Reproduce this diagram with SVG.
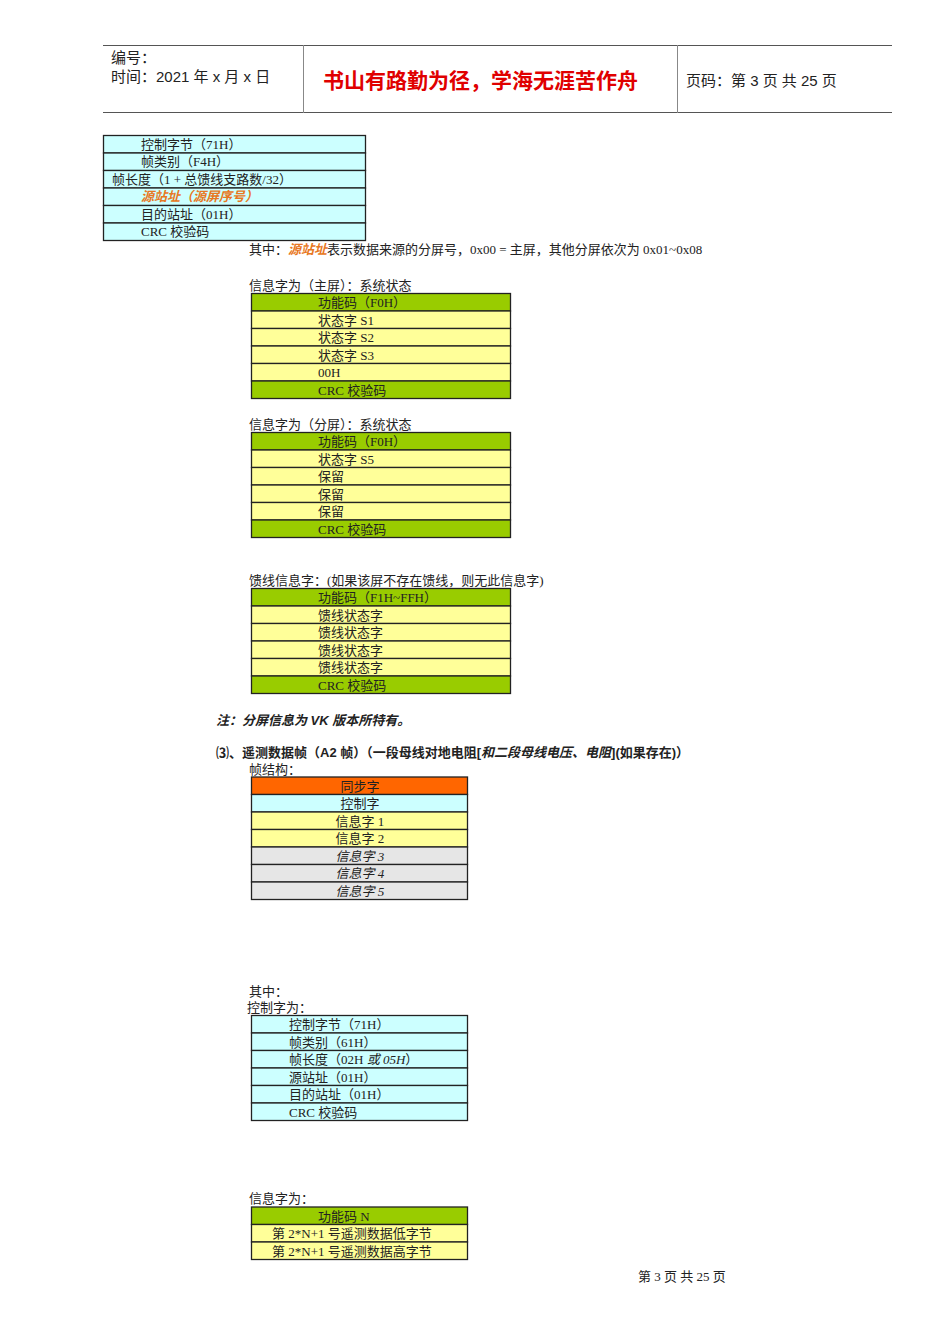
<svg xmlns="http://www.w3.org/2000/svg" width="950" height="1344" viewBox="0 0 950 1344">
<style>
text{font-family:"Liberation Serif","Noto Sans CJK SC",serif;font-size:13px;fill:#222}
.h{font-family:"Liberation Sans","Noto Sans CJK SC",sans-serif;font-size:15px}
.r rect{stroke:#222;stroke-width:1.3}
.c{fill:#CCFFFF}.y{fill:#FFFF99}.g{fill:#99CC00}.o{fill:#FF6600}.gr{fill:#E6E6E6}
.it{font-style:italic}
.or{fill:#E87722;font-style:italic;font-weight:bold}
.b{font-family:"Liberation Sans","Noto Sans CJK SC",sans-serif;font-weight:bold;font-size:13px}
</style>
<rect width="950" height="1344" fill="#fff"/>
<g id="header">
<line x1="103" y1="45.5" x2="892" y2="45.5" stroke="#555"/>
<line x1="103" y1="112.5" x2="892" y2="112.5" stroke="#555"/>
<line x1="303.5" y1="45" x2="303.5" y2="113" stroke="#888"/>
<line x1="677.5" y1="45" x2="677.5" y2="113" stroke="#888"/>
<text class="h" x="111" y="63">编号：</text>
<text class="h" x="111" y="82">时间：2021 年 x 月 x 日</text>
<text class="h" x="323" y="88" style="font-size:21px;fill:#E00000;font-weight:bold">书山有路勤为径，学海无涯苦作舟</text>
<text class="h" x="686" y="86">页码：第 3 页  共 25 页</text>
</g>
<g id="t1" class="r">
<rect class="c" x="103.5" y="135.5" width="262" height="17.5"/>
<rect class="c" x="103.5" y="153" width="262" height="17.5"/>
<rect class="c" x="103.5" y="170.5" width="262" height="17.5"/>
<rect class="c" x="103.5" y="188" width="262" height="17.5"/>
<rect class="c" x="103.5" y="205.5" width="262" height="17.5"/>
<rect class="c" x="103.5" y="223" width="262" height="17.5"/>
<text x="141" y="149">控制字节（71H）</text>
<text x="141" y="166">帧类别（F4H）</text>
<text x="112" y="184">帧长度（1 + 总馈线支路数/32）</text>
<text class="or" x="141" y="201">源站址（源屏序号）</text>
<text x="141" y="219">目的站址（01H）</text>
<text x="141" y="236">CRC 校验码</text>
</g>
<text x="249" y="254">其中：<tspan class="or">源站址</tspan>表示数据来源的分屏号，0x00 = 主屏，其他分屏依次为 0x01~0x08</text>
<text x="249" y="290">信息字为（主屏）：系统状态</text>
<g id="t2" class="r">
<rect class="g" x="251.5" y="293.5" width="259" height="17.5"/>
<rect class="y" x="251.5" y="311" width="259" height="17.5"/>
<rect class="y" x="251.5" y="328.5" width="259" height="17.5"/>
<rect class="y" x="251.5" y="346" width="259" height="17.5"/>
<rect class="y" x="251.5" y="363.5" width="259" height="17.5"/>
<rect class="g" x="251.5" y="381" width="259" height="17.5"/>
<text x="318" y="307">功能码（F0H）</text>
<text x="318" y="325">状态字 S1</text>
<text x="318" y="342">状态字 S2</text>
<text x="318" y="360">状态字 S3</text>
<text x="318" y="377">00H</text>
<text x="318" y="395">CRC 校验码</text>
</g>
<text x="249" y="429">信息字为（分屏）：系统状态</text>
<g id="t3" class="r">
<rect class="g" x="251.5" y="432.5" width="259" height="17.5"/>
<rect class="y" x="251.5" y="450" width="259" height="17.5"/>
<rect class="y" x="251.5" y="467.5" width="259" height="17.5"/>
<rect class="y" x="251.5" y="485" width="259" height="17.5"/>
<rect class="y" x="251.5" y="502.5" width="259" height="17.5"/>
<rect class="g" x="251.5" y="520" width="259" height="17.5"/>
<text x="318" y="446">功能码（F0H）</text>
<text x="318" y="464">状态字 S5</text>
<text x="318" y="481">保留</text>
<text x="318" y="499">保留</text>
<text x="318" y="516">保留</text>
<text x="318" y="534">CRC 校验码</text>
</g>
<text x="249" y="585">馈线信息字：(如果该屏不存在馈线，则无此信息字)</text>
<g id="t4" class="r">
<rect class="g" x="251.5" y="588.5" width="259" height="17.5"/>
<rect class="y" x="251.5" y="606" width="259" height="17.5"/>
<rect class="y" x="251.5" y="623.5" width="259" height="17.5"/>
<rect class="y" x="251.5" y="641" width="259" height="17.5"/>
<rect class="y" x="251.5" y="658.5" width="259" height="17.5"/>
<rect class="g" x="251.5" y="676" width="259" height="17.5"/>
<text x="318" y="602">功能码（F1H~FFH）</text>
<text x="318" y="620">馈线状态字</text>
<text x="318" y="637">馈线状态字</text>
<text x="318" y="655">馈线状态字</text>
<text x="318" y="672">馈线状态字</text>
<text x="318" y="690">CRC 校验码</text>
</g>
<text class="b it" x="216" y="725">注：分屏信息为 VK 版本所特有。</text>
<text class="b" x="216" y="757">⑶、遥测数据帧（A2 帧）（一段母线对地电阻[<tspan class="it">和二段母线电压、电阻</tspan>](如果存在)）</text>
<text x="249" y="774">帧结构：</text>
<g id="t5" class="r">
<rect class="o" x="251.5" y="777" width="216" height="17.5"/>
<rect class="c" x="251.5" y="794.5" width="216" height="17.5"/>
<rect class="y" x="251.5" y="812" width="216" height="17.5"/>
<rect class="y" x="251.5" y="829.5" width="216" height="17.5"/>
<rect class="gr" x="251.5" y="847" width="216" height="17.5"/>
<rect class="gr" x="251.5" y="864.5" width="216" height="17.5"/>
<rect class="gr" x="251.5" y="882" width="216" height="17.5"/>
<g text-anchor="middle">
<text x="360" y="791">同步字</text>
<text x="360" y="808">控制字</text>
<text x="360" y="826">信息字 1</text>
<text x="360" y="843">信息字 2</text>
<text class="it" x="360" y="861">信息字 3</text>
<text class="it" x="360" y="878">信息字 4</text>
<text class="it" x="360" y="896">信息字 5</text>
</g>
</g>
<text x="249" y="996">其中：</text>
<text x="247" y="1012">控制字为：</text>
<g id="t6" class="r">
<rect class="c" x="251.5" y="1015.5" width="216" height="17.5"/>
<rect class="c" x="251.5" y="1033" width="216" height="17.5"/>
<rect class="c" x="251.5" y="1050.5" width="216" height="17.5"/>
<rect class="c" x="251.5" y="1068" width="216" height="17.5"/>
<rect class="c" x="251.5" y="1085.5" width="216" height="17.5"/>
<rect class="c" x="251.5" y="1103" width="216" height="17.5"/>
<text x="289" y="1029">控制字节（71H）</text>
<text x="289" y="1047">帧类别（61H）</text>
<text x="289" y="1064">帧长度（02H <tspan class="it">或 05H</tspan>）</text>
<text x="289" y="1082">源站址（01H）</text>
<text x="289" y="1099">目的站址（01H）</text>
<text x="289" y="1117">CRC 校验码</text>
</g>
<text x="249" y="1203">信息字为：</text>
<g id="t7" class="r">
<rect class="g" x="251.5" y="1207" width="216" height="17.5"/>
<rect class="y" x="251.5" y="1224.5" width="216" height="17.5"/>
<rect class="y" x="251.5" y="1242" width="216" height="17.5"/>
<text x="318" y="1221">功能码 N</text>
<text x="272" y="1238">第 2*N+1 号遥测数据低字节</text>
<text x="272" y="1256">第 2*N+1 号遥测数据高字节</text>
</g>
<text x="638" y="1281">第 3 页 共 25 页</text>
</svg>
